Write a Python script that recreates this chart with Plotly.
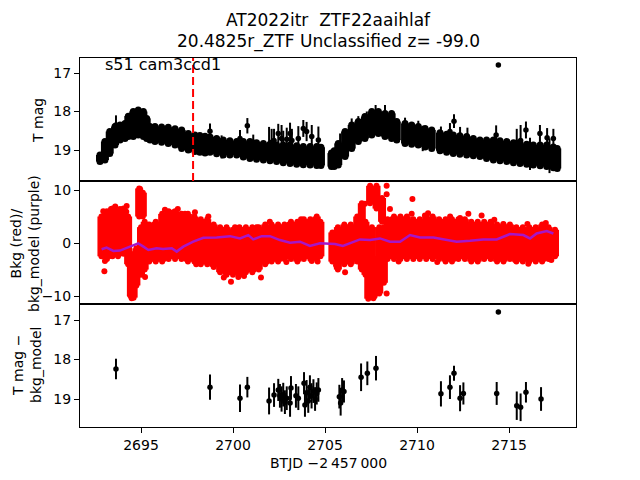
import numpy as np
import plotly.graph_objects as go
from plotly.subplots import make_subplots

# ---------------- data ----------------
# Top panel: dense light-curve band (time, bright edge, faint edge) in T mag
band_t = [2692.77, 2693.04, 2693.30, 2693.59, 2693.86, 2694.13, 2694.31, 2694.58, 2694.85, 2695.13,
          2695.31, 2695.49, 2695.76, 2696.12, 2696.48, 2696.85, 2697.21, 2697.57, 2697.93, 2698.20,
          2698.48, 2698.75, 2699.11, 2699.47, 2699.83, 2700.20, 2700.56, 2700.92, 2701.28, 2701.65,
          2702.01, 2702.37, 2702.73, 2703.10, 2703.46, 2703.82, 2704.19, 2704.55, 2704.78,
          2705.35, 2705.50, 2705.72, 2706.09, 2706.45, 2706.81, 2707.17, 2707.54, 2707.90, 2708.26,
          2708.62, 2708.90, 2709.35, 2709.71, 2710.07, 2710.44, 2710.80, 2711.25, 2711.61, 2711.97,
          2712.33, 2712.70, 2713.06, 2713.42, 2713.78, 2714.15, 2714.51, 2714.88, 2715.24, 2715.60,
          2715.96, 2716.32, 2716.69, 2717.05, 2717.41, 2717.62]
band_bright = [19.13, 18.78, 18.52, 18.39, 18.35, 18.31, 18.12, 18.00, 17.96, 18.00,
               18.18, 18.39, 18.39, 18.40, 18.41, 18.45, 18.48, 18.57, 18.61, 18.62,
               18.64, 18.66, 18.70, 18.74, 18.76, 18.78, 18.78, 18.78, 18.81, 18.83,
               18.85, 18.87, 18.87, 18.87, 18.89, 18.91, 18.91, 18.91, 18.93,
               19.08, 19.02, 18.83, 18.52, 18.35, 18.26, 18.13, 18.00, 18.00, 18.05,
               18.05, 18.26, 18.31, 18.35, 18.39, 18.44, 18.48, 18.55, 18.59, 18.61,
               18.63, 18.65, 18.70, 18.74, 18.74, 18.74, 18.76, 18.78, 18.81, 18.83,
               18.85, 18.87, 18.87, 18.87, 18.92, 18.96]
band_faint = [19.30, 19.26, 19.09, 18.87, 18.74, 18.70, 18.65, 18.65, 18.61, 18.65,
              18.70, 18.74, 18.78, 18.80, 18.83, 18.87, 18.96, 19.00, 19.04, 19.06,
              19.08, 19.06, 19.10, 19.13, 19.13, 19.13, 19.18, 19.22, 19.24, 19.26,
              19.28, 19.30, 19.33, 19.35, 19.37, 19.38, 19.39, 19.40, 19.40,
              19.43, 19.43, 19.39, 19.17, 18.96, 18.78, 18.70, 18.61, 18.57, 18.65,
              18.70, 18.74, 18.83, 18.85, 18.87, 18.92, 18.96, 19.02, 19.06, 19.09,
              19.11, 19.13, 19.15, 19.17, 19.22, 19.26, 19.28, 19.30, 19.33, 19.35,
              19.37, 19.39, 19.41, 19.43, 19.46, 19.48]

# Top panel: individual points with long error bars
spike_t = [2693.64, 2698.75, 2699.38, 2700.38, 2700.78, 2701.10, 2701.96, 2702.10, 2702.23, 2702.46,
           2702.64, 2702.73, 2702.92, 2703.10, 2703.20, 2703.55, 2703.82, 2704.00, 2704.28, 2704.64,
           2705.82, 2706.45, 2706.81, 2707.27, 2707.75, 2708.26, 2709.35, 2710.07, 2710.31, 2711.30,
           2711.79, 2712.01, 2712.34, 2712.74, 2714.30, 2715.42, 2715.63, 2715.92, 2716.14, 2716.68,
           2717.07, 2717.20, 2717.41, 2714.42]
spike_mag = [18.35, 18.51, 18.92, 18.70, 18.37, 18.80, 18.85, 18.80, 18.75, 18.57,
             18.70, 18.95, 18.72, 18.57, 18.75, 18.70, 18.44, 18.52, 18.65, 18.74,
             18.90, 18.50, 18.40, 18.30, 18.15, 18.15, 18.50, 18.55, 18.70, 18.70,
             18.52, 18.25, 18.75, 18.75, 18.61, 18.80, 18.75, 18.48, 19.10, 18.57,
             18.68, 19.15, 18.70, 16.79]
spike_err = [0.25, 0.20, 0.30, 0.22, 0.20, 0.20, 0.45, 0.35, 0.30, 0.25,
             0.35, 0.45, 0.30, 0.28, 0.30, 0.32, 0.22, 0.25, 0.30, 0.35,
             0.33, 0.32, 0.28, 0.30, 0.32, 0.32, 0.34, 0.31, 0.33, 0.31,
             0.22, 0.18, 0.35, 0.33, 0.25, 0.35, 0.40, 0.22, 0.42, 0.22,
             0.25, 0.45, 0.25, 0.0]

# Middle panel: background flux cloud (time, low edge, high edge)
bkg_t = [2692.85, 2693.15, 2693.45, 2693.75, 2694.05, 2694.30, 2694.45, 2694.60, 2694.75, 2694.90,
         2695.00, 2695.10, 2695.20, 2695.45, 2695.80, 2696.15, 2696.50, 2696.85, 2697.20, 2697.55,
         2697.90, 2698.25, 2698.60, 2698.95, 2699.30, 2699.65, 2700.00, 2700.35, 2700.70, 2701.05,
         2701.40, 2701.75, 2702.10, 2702.45, 2702.80, 2703.15, 2703.50, 2703.85, 2704.20, 2704.55,
         2704.75,
         2705.40, 2705.70, 2706.05, 2706.40, 2706.75, 2707.00, 2707.20, 2707.35, 2707.45, 2707.55,
         2707.70, 2707.80, 2707.95, 2708.10, 2708.20, 2708.40, 2708.75, 2709.10, 2709.45, 2709.80,
         2710.15, 2710.50, 2710.85, 2711.20, 2711.55, 2711.90, 2712.25, 2712.60, 2712.95, 2713.30,
         2713.65, 2714.00, 2714.35, 2714.70, 2715.05, 2715.40, 2715.75, 2716.10, 2716.45, 2716.80,
         2717.15, 2717.50]
bkg_lo = [-2.5, -3.0, -2.5, -2.5, -2.0, -4.0, -10.0, -10.3, -8.0, 5.0,
          -6.0, 5.0, -5.0, -3.5, -3.5, -3.5, -3.0, -3.0, -3.0, -3.5,
          -3.5, -4.0, -4.0, -4.5, -5.5, -6.0, -6.0, -6.0, -5.5, -5.5,
          -5.0, -4.0, -3.5, -3.5, -3.0, -3.0, -3.5, -3.0, -3.0, -3.0,
          -2.5,
          -3.5, -5.0, -4.0, -4.0, -3.5, -5.0, -6.0, -10.5, 7.5, -9.0,
          -10.0, 6.5, -9.5, 4.0, -7.5, -3.0, -3.0, -3.0, -3.0, -3.0,
          -3.0, -3.0, -3.0, -3.0, -3.5, -3.5, -3.0, -3.0, -3.5, -3.5,
          -3.0, -3.0, -3.5, -3.5, -3.0, -3.5, -3.5, -3.5, -3.5, -3.5,
          -3.0, -2.5]
bkg_hi = [5.0, 6.0, 6.5, 6.0, 6.5, 5.0, -2.0, -3.0, -1.0, 10.3,
          3.0, 9.5, 4.0, 3.5, 4.0, 5.5, 6.0, 6.0, 5.5, 5.5,
          5.0, 4.5, 4.5, 3.5, 3.0, 3.0, 2.5, 3.0, 3.0, 3.0,
          3.0, 3.5, 3.5, 3.5, 3.5, 4.0, 4.0, 4.5, 4.5, 5.0,
          4.0,
          2.0, 3.0, 3.5, 3.5, 5.0, 7.5, 4.0, -4.0, 10.8, 3.0,
          -3.0, 10.8, 3.0, 8.5, 3.0, 4.5, 5.0, 5.0, 5.0, 4.5,
          4.5, 5.0, 5.0, 4.5, 4.5, 4.5, 4.5, 4.5, 4.0, 4.0,
          4.0, 4.0, 3.5, 3.5, 3.5, 3.0, 3.0, 3.0, 3.0, 3.5,
          3.0, 2.5]

# Middle panel: scattered background points
dot_t = [2693.01, 2693.04, 2693.37, 2693.86, 2694.22, 2694.20, 2694.95, 2695.04, 2694.49, 2694.40,
         2694.67, 2695.22, 2696.76, 2697.39, 2697.93, 2698.66, 2699.89, 2700.29, 2701.52, 2700.11,
         2701.29, 2703.28, 2704.28, 2704.55, 2692.95, 2693.60, 2696.30, 2697.00, 2698.00, 2699.50,
         2700.60, 2702.00, 2702.90, 2703.70, 2704.60,
         2706.09, 2707.17, 2707.81, 2708.35, 2708.35, 2707.63, 2708.35, 2708.53, 2709.75, 2709.71,
         2710.43, 2712.34, 2712.79, 2713.51, 2714.69, 2713.51, 2715.33, 2716.05, 2716.78, 2705.54,
         2705.60, 2711.10, 2709.00, 2710.60, 2711.80, 2714.20, 2716.00, 2717.00, 2717.30]
dot_v = [-5.3, -3.4, 6.4, 6.4, 7.0, 5.9, 10.2, 9.2, -10.4, -9.8,
         -7.3, -6.4, 5.8, 5.5, 5.8, 5.0, -7.3, -6.4, -6.5, 3.0,
         3.0, 3.3, -3.4, 4.0, 6.0, 6.9, 6.3, 6.4, -4.0, -6.5,
         -6.2, 4.0, -3.6, 4.5, -3.5,
         -5.5, 7.4, 10.2, 10.8, 9.2, -10.4, -9.5, 6.4, 8.3, 5.5,
         5.2, 4.7, 5.5, 5.2, 3.6, -2.6, -3.2, -3.9, -3.2, -3.5,
         -4.2, -3.6, -3.5, 5.6, 5.0, 4.4, 3.6, 3.8, -3.2]

# Middle panel: background model (purple line)
model_t = [2692.86, 2693.13, 2693.50, 2693.86, 2694.40, 2694.85, 2695.13, 2695.40, 2695.85, 2696.20,
           2696.67, 2696.94, 2697.30, 2697.84, 2698.39, 2699.11, 2699.84, 2700.38, 2700.83, 2701.10,
           2701.56, 2702.01, 2702.55, 2703.10, 2703.64, 2704.18, 2704.73, 2705.54, 2705.97, 2706.54,
           2706.90, 2707.45, 2707.99, 2708.53, 2709.08, 2709.62, 2710.16, 2710.89, 2711.43, 2712.16,
           2712.88, 2713.60, 2714.33, 2715.05, 2715.78, 2716.14, 2716.50, 2717.05, 2717.41]
model_v = [-1.18, -0.87, -1.50, -1.43, -0.68, -0.06, -0.68, -1.30, -1.00, -1.12,
           -1.00, -1.62, -0.68, 0.25, 1.00, 1.06, 1.30, 0.87, 1.50, 0.68,
           1.30, 1.30, 0.56, 0.06, 0.25, -0.56, -0.06, -0.18, -0.56, 0.25,
           0.68, 0.56, 0.87, 0.25, 0.25, 1.50, 1.06, 1.06, 0.68, 0.25,
           0.43, 0.68, 0.68, 1.68, 1.50, 0.87, 1.80, 2.24, 1.80]

# Bottom panel: T mag - bkg_model
res_t = [2693.64, 2698.75, 2700.38, 2700.78, 2701.96, 2702.23, 2702.46, 2702.55, 2702.64, 2702.73,
         2702.82, 2702.92, 2703.10, 2703.15, 2703.42, 2703.55, 2703.86, 2703.91, 2704.00, 2704.09,
         2704.18, 2704.27, 2704.37, 2704.46, 2704.55, 2704.64, 2705.78, 2705.85, 2705.93, 2706.03,
         2706.96, 2707.30, 2707.77, 2711.30, 2711.79, 2712.01, 2712.34, 2712.52, 2714.33, 2715.42,
         2715.63, 2715.92, 2716.74, 2714.42]
res_mag = [18.24, 18.70, 18.98, 18.70, 19.05, 18.90, 18.77, 18.92, 19.00, 18.89,
           19.08, 18.98, 19.10, 18.72, 18.92, 18.98, 18.60, 19.15, 18.84, 19.05,
           18.70, 18.92, 18.80, 19.00, 18.86, 18.77, 18.94, 19.10, 18.77, 18.81,
           18.45, 18.35, 18.22, 18.87, 18.70, 18.35, 18.98, 18.86, 18.86, 19.17,
           19.21, 18.83, 19.00, 16.80]
res_err = [0.26, 0.32, 0.35, 0.26, 0.34, 0.30, 0.28, 0.30, 0.32, 0.30,
           0.30, 0.30, 0.35, 0.30, 0.30, 0.30, 0.28, 0.30, 0.32, 0.30,
           0.30, 0.32, 0.30, 0.30, 0.28, 0.30, 0.30, 0.32, 0.30, 0.28,
           0.35, 0.30, 0.31, 0.32, 0.30, 0.19, 0.33, 0.28, 0.29, 0.36,
           0.35, 0.26, 0.30, 0.0]

t_marker = 2697.83           # red dashed vertical line (top panel)
x_ticks = [2695, 2700, 2705, 2710, 2715]
title1 = "AT2022itr  ZTF22aaihlaf"
title2 = "20.4825r_ZTF Unclassified z= -99.0"
sector_label = "s51 cam3ccd1"

# ---------------- figure ----------------
FONT = "DejaVu Sans"
fig = make_subplots(rows=3, cols=1, shared_xaxes=True, vertical_spacing=0)

bb = np.array(band_bright); bf = np.array(band_faint)
fig.add_trace(go.Scatter(
    x=band_t, y=(bb + bf) / 2, mode="markers",
    marker=dict(color="black", size=6),
    error_y=dict(type="data", array=(bf - bb) / 2, color="black", thickness=8, width=0),
    showlegend=False), row=1, col=1)
fig.add_trace(go.Scatter(   # rounded ends of the band columns
    x=list(band_t) + list(band_t), y=list(band_bright) + list(band_faint), mode="markers",
    marker=dict(color="black", size=7),
    showlegend=False), row=1, col=1)
fig.add_trace(go.Scatter(
    x=spike_t, y=spike_mag, mode="markers",
    marker=dict(color="black", size=5.5),
    error_y=dict(type="data", array=spike_err, color="black", thickness=2, width=0),
    showlegend=False), row=1, col=1)

lo = np.array(bkg_lo); hi = np.array(bkg_hi)
fig.add_trace(go.Scatter(
    x=bkg_t, y=(lo + hi) / 2, mode="markers",
    marker=dict(color="red", size=6),
    error_y=dict(type="data", array=(hi - lo) / 2, color="red", thickness=8, width=0),
    showlegend=False), row=2, col=1)
fig.add_trace(go.Scatter(   # rounded ends of the cloud columns + scattered points
    x=list(bkg_t) + list(bkg_t) + list(dot_t), y=list(bkg_lo) + list(bkg_hi) + list(dot_v),
    mode="markers", marker=dict(color="red", size=6),
    showlegend=False), row=2, col=1)
fig.add_trace(go.Scatter(
    x=model_t, y=model_v, mode="lines",
    line=dict(color="#a616c8", width=2.5),
    showlegend=False), row=2, col=1)

fig.add_trace(go.Scatter(
    x=res_t, y=res_mag, mode="markers",
    marker=dict(color="black", size=5.5),
    error_y=dict(type="data", array=res_err, color="black", thickness=2, width=0),
    showlegend=False), row=3, col=1)

fig.add_shape(type="line", xref="x", yref="y domain", x0=t_marker, x1=t_marker, y0=0, y1=1,
              line=dict(color="red", width=2, dash="8px,4px"), layer="above")

axis_common = dict(showline=True, linecolor="black", linewidth=1, mirror=True, automargin=False,
                   showgrid=False, zeroline=False, tickfont=dict(family=FONT, size=14, color="black"))
xr = [2691.685, 2718.64]
fig.update_xaxes(range=xr, tickvals=x_ticks, **axis_common)
fig.update_xaxes(ticks="", row=1, col=1)
fig.update_xaxes(ticks="", row=2, col=1)
fig.update_xaxes(ticks="outside", ticklen=5, tickwidth=1, tickcolor="black", row=3, col=1)
fig.update_yaxes(ticks="outside", ticklen=5, tickwidth=1, tickcolor="black", **axis_common)
fig.update_yaxes(range=[19.805, 16.61], tickvals=[17, 18, 19], row=1, col=1)
fig.update_yaxes(range=[-11.5, 11.7], tickvals=[-10, 0, 10], row=2, col=1)
fig.update_yaxes(range=[19.709, 16.595], tickvals=[17, 18, 19], row=3, col=1)

def ann(text, x, y, size=14, angle=0, xanchor="center"):
    return dict(text=text, x=x, y=y, xref="paper", yref="paper", showarrow=False,
                xanchor=xanchor, yanchor="middle", textangle=angle,
                font=dict(family=FONT, size=size, color="black"))

fig.update_layout(
    width=640, height=480,
    margin=dict(l=80, r=64, t=58, b=53, autoexpand=False),
    paper_bgcolor="white", plot_bgcolor="white",
    hovermode=False,
    annotations=[
        ann(title1, 0.5, 1.103, size=17),
        ann(title2, 0.5, 1.0434, size=17),
        ann(sector_label, 0.0464, 0.9837, size=16, xanchor="left"),
        ann("T mag", -0.0847, 0.832, angle=-90),
        ann("Bkg (red)/<br>bkg_model (purple)", -0.1109, 0.4986, angle=-90),
        ann("T mag \u2212<br>bkg_model", -0.1069, 0.168, angle=-90),
        ann("BTJD \u22122\u2009457\u2009000", 0.5, -0.0976),
    ],
)

fig.write_html("out.html", config={"displayModeBar": False, "staticPlot": True},
               post_script="document.body.style.margin='0';")
